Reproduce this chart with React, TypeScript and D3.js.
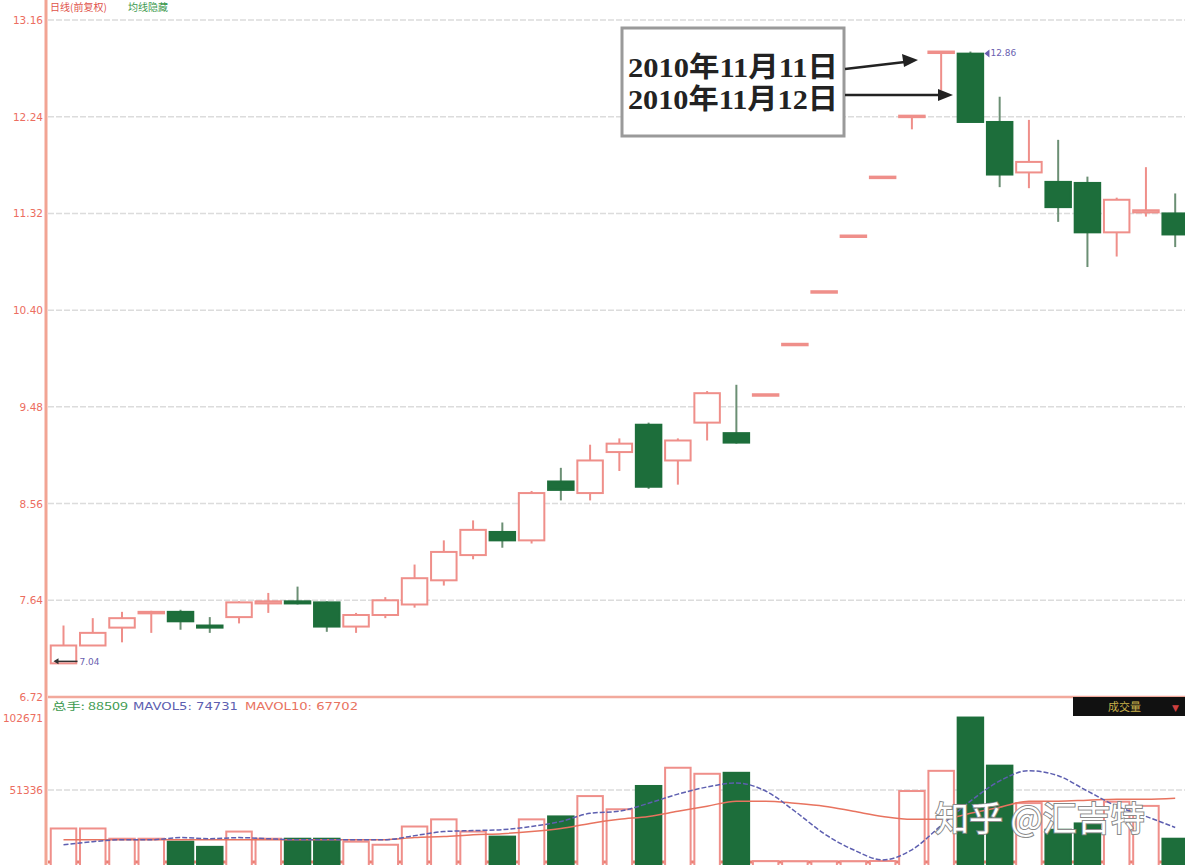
import * as d3 from "d3";

// daily candles (price, 前复权)
const opens = [7.04, 7.21, 7.38, 7.52, 7.53, 7.40, 7.48, 7.61, 7.63, 7.62, 7.39, 7.50, 7.60, 7.83, 8.07, 8.29, 8.21, 8.77, 8.66, 9.05, 9.31, 8.97, 9.33, 9.23, 9.60, 10.08, 10.58, 11.11, 11.67, 12.25, 12.86, 12.84, 12.19, 11.71, 11.62, 11.61, 11.14, 11.33, 11.32];
const highs = [7.40, 7.47, 7.53, 7.54, 7.55, 7.48, 7.63, 7.71, 7.77, 7.63, 7.52, 7.67, 7.98, 8.21, 8.40, 8.38, 8.68, 8.90, 9.12, 9.18, 9.33, 9.18, 9.63, 9.69, 9.60, 10.08, 10.58, 11.11, 11.67, 12.25, 12.86, 12.86, 12.43, 12.21, 12.02, 11.67, 11.47, 11.76, 11.51];
const lows = [7.04, 7.21, 7.24, 7.33, 7.36, 7.33, 7.42, 7.52, 7.60, 7.34, 7.33, 7.47, 7.57, 7.78, 8.03, 8.14, 8.18, 8.59, 8.59, 8.87, 8.70, 8.74, 9.16, 9.13, 9.60, 10.08, 10.58, 11.11, 11.67, 12.12, 12.49, 12.19, 11.57, 11.56, 11.24, 10.81, 10.91, 11.29, 11.00];
const closes = [7.21, 7.33, 7.47, 7.53, 7.44, 7.38, 7.62, 7.63, 7.61, 7.39, 7.50, 7.64, 7.85, 8.10, 8.31, 8.21, 8.66, 8.69, 8.97, 9.13, 8.72, 9.16, 9.61, 9.14, 9.60, 10.08, 10.58, 11.11, 11.67, 12.25, 12.86, 12.19, 11.69, 11.81, 11.38, 11.14, 11.45, 11.35, 11.12];

// volume + moving averages
const volumes = [23900, 23900, 16600, 16600, 14500, 10800, 21700, 16600, 16600, 16600, 14500, 12300, 25300, 30400, 21700, 18100, 30400, 32500, 47000, 37600, 54200, 67200, 62900, 63600, 600, 500, 400, 500, 700, 50600, 65000, 103000, 68700, 42000, 23000, 27500, 43000, 40000, 16600];
const mavol5 = [12300, 14500, 15900, 15900, 17400, 16600, 17400, 16600, 15900, 15900, 15900, 15900, 18800, 21700, 22400, 23100, 25300, 28900, 34700, 36200, 41900, 48400, 53500, 56400, 50600, 36200, 20200, 8700, 1500, 8700, 26000, 43400, 57800, 65100, 61500, 50600, 39800, 32500, 24600];
const mavol10 = [15900, 15900, 15900, 15900, 15900, 15900, 15900, 15900, 15900, 15900, 15900, 15900, 17400, 18100, 19500, 20200, 21700, 23900, 27500, 30400, 32500, 36200, 39800, 43400, 43400, 41900, 39800, 36200, 32500, 30400, 30400, 34700, 39000, 43400, 43400, 44100, 44800, 44800, 45500];

const priceTicks = [6.72, 7.64, 8.56, 9.48, 10.40, 11.32, 12.24, 13.16];
const volTicks = [51336, 102671];
const noteLines = ["2010年11月11日", "2010年11月12日"];

const W = 1185;
const H = 865;
const left = 48;
const RED = "#ef8f8a";
const GREEN = "#1d6e3b";

export default function App() {
  const idx = d3.range(opens.length);
  const x = d3.scaleBand<number>().domain(idx).range([left, left + 29.3 * idx.length]).padding(0.06);
  const y = d3.scaleLinear().domain([6.72, 13.16]).range([697, 20]);
  const yv = d3.scaleLinear().domain([0, 102671]).range([862, 718]);
  const cx = (i: number) => x(i)! + x.bandwidth() / 2;
  const bw = x.bandwidth();

  const maLine = d3.line<number>().x((_, i) => cx(i)).y((d) => yv(d)).curve(d3.curveMonotoneX);

  const lowI = d3.minIndex(lows);
  const highI = highs.lastIndexOf(d3.max(highs)!);

  return (
    <svg width={W} height={H} style={{ position: "fixed", left: 0, top: 0, background: "#fff" }}
      fontFamily="'DejaVu Sans', 'Noto Sans CJK SC', sans-serif">
      <rect width={W} height={H} fill="#fff" />
      {/* header */}
      <text x={50} y={11} fontSize={10} fill="#e0524a" fontFamily="'Noto Sans CJK SC'">日线(前复权)</text>
      <text x={128} y={11} fontSize={10} fill="#3d9a4f" fontFamily="'Noto Sans CJK SC'">均线隐藏</text>

      {/* grid */}
      {priceTicks.slice(1).map((t) => (
        <line key={t} x1={left} x2={W} y1={y(t)} y2={y(t)} stroke="#dcdcdc" strokeWidth={1.5} strokeDasharray="6,2" />
      ))}
      <line x1={left} x2={W} y1={yv(volTicks[0])} y2={yv(volTicks[0])} stroke="#dcdcdc" strokeWidth={1.5} strokeDasharray="6,2" />
      <line x1={left} x2={W} y1={697} y2={697} stroke="#f2a99c" strokeWidth={2.5} />
      <line x1={left} x2={W} y1={862} y2={862} stroke="#ec7f72" strokeWidth={3} />

      {/* y labels */}
      {priceTicks.map((t) => (
        <text key={t} x={43} y={y(t) + 4} textAnchor="end" fontSize={10.5} fill="#ec6d60">{t.toFixed(2)}</text>
      ))}
      {volTicks.map((t) => (
        <text key={t} x={43} y={yv(t) + 4} textAnchor="end" fontSize={10.5} fill="#ec6d60">{t}</text>
      ))}

      {/* candles */}
      {idx.map((i) => {
        const up = closes[i] >= opens[i];
        const col = up ? RED : GREEN;
        const top = y(Math.max(opens[i], closes[i]));
        const bot = y(Math.min(opens[i], closes[i]));
        const h = Math.max(bot - top, 1.5);
        return (
          <g key={i}>
            <line x1={cx(i)} x2={cx(i)} y1={y(highs[i])} y2={top} stroke={up ? RED : "#6b8f74"} strokeWidth={2} />
            <line x1={cx(i)} x2={cx(i)} y1={bot} y2={y(lows[i])} stroke={up ? RED : "#6b8f74"} strokeWidth={2} />
            <rect x={x(i)! + 1} y={top} width={bw - 2} height={h}
              fill={up ? "#fff" : GREEN} stroke={col} strokeWidth={2} />
          </g>
        );
      })}

      {/* min / max markers */}
      <line x1={cx(lowI) - 8} x2={cx(lowI) + 14} y1={y(lows[lowI]) - 2} y2={y(lows[lowI]) - 2} stroke="#333" strokeWidth={1.5} />
      <path d={`M${cx(lowI) - 10},${y(lows[lowI]) - 2} l5,-3 v6 z`} fill="#333" />
      <text x={cx(lowI) + 16} y={y(lows[lowI]) + 2} fontSize={9} fill="#6a5fb0">{lows[lowI].toFixed(2)}</text>
      <path d={`M${cx(highI) + 14},${y(highs[highI]) + 2} l5,-4 v8 z`} fill="#6a5fb0" />
      <text x={cx(highI) + 20} y={y(highs[highI]) + 4} fontSize={9} fill="#6a5fb0">{highs[highI].toFixed(2)}</text>

      {/* volume bars */}
      {idx.map((i) => {
        const up = closes[i] >= opens[i];
        return (
          <rect key={i} x={x(i)! + 1} y={yv(volumes[i])} width={bw - 2} height={866 - yv(volumes[i])}
            fill={up ? "#fff" : GREEN} stroke={up ? RED : GREEN} strokeWidth={2} />
        );
      })}
      <path d={maLine(mavol10)!} fill="none" stroke="#e8735f" strokeWidth={1.5} />
      <path d={maLine(mavol5)!} fill="none" stroke="#5d5fb0" strokeWidth={1.5} strokeDasharray="5,2" />

      {/* volume header */}
      <text x={52} y={710} fontSize={10} fill="#3d9a4f" fontFamily="'Noto Sans CJK SC'" textLength={76} lengthAdjust="spacingAndGlyphs">总手: 88509</text>
      <text x={133} y={710} fontSize={10} fill="#5d5fb0" textLength={105} lengthAdjust="spacingAndGlyphs">MAVOL5: 74731</text>
      <text x={245} y={710} fontSize={10} fill="#e8735f" textLength={113} lengthAdjust="spacingAndGlyphs">MAVOL10: 67702</text>
      <rect x={1073} y={697} width={112} height={19} fill="#111" />
      <text x={1108} y={711} fontSize={11} fill="#c8b04a" fontFamily="'Noto Sans CJK SC'">成交量</text>
      <text x={1172} y={711} fontSize={9} fill="#d04040">▼</text>

      {/* axis */}
      <line x1={46} x2={46} y1={0} y2={H} stroke="#f2a493" strokeWidth={3} />

      {/* annotation */}
      <rect x={622} y={28} width={222} height={108} fill="#fff" stroke="#9a9a9a" strokeWidth={3} />
      {noteLines.map((t, k) => (
        <text key={t} x={628} y={77 + k * 32} fontSize={28} fontWeight="bold" fill="#222"
          textLength={210} lengthAdjust="spacingAndGlyphs"
          fontFamily="'Liberation Serif', 'Noto Sans CJK SC', serif">{t}</text>
      ))}
      <line x1={845} y1={69} x2={905} y2={62} stroke="#222" strokeWidth={2.5} />
      <path d="M918,60 l-16,-6 l2,13 z" fill="#222" />
      <line x1={845} y1={95} x2={940} y2={95} stroke="#222" strokeWidth={2.5} />
      <path d="M953,95 l-15,-6 v12 z" fill="#222" />

      {/* watermark */}
      <text x={935} y={831} fontSize={34} fill="#fff" stroke="#8a8a8a" strokeWidth={2} paintOrder="stroke"
        fontFamily="'Noto Sans CJK SC'">知乎 @汇吉特</text>
    </svg>
  );
}
